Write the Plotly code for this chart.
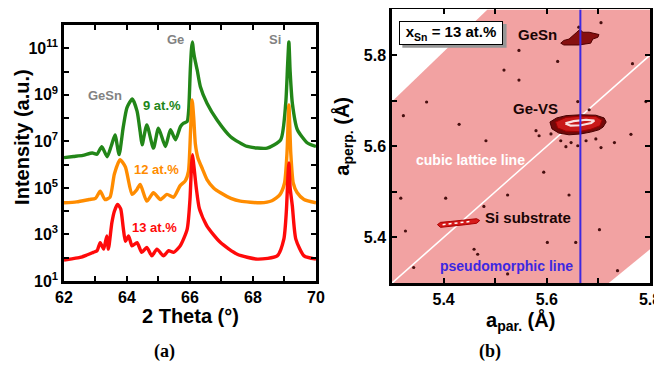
import plotly.graph_objects as go

# ---------------- Panel (a): XRD 2theta scans (log10 intensity) ----------------
green_x = [62.0, 62.3, 62.6, 62.9, 63.05, 63.2, 63.37, 63.5, 63.62, 63.75, 63.88, 64.0, 64.17, 64.32,
           64.42, 64.48, 64.63, 64.84, 65.0, 65.22, 65.38, 65.54, 65.7, 65.8, 65.91, 65.96, 66.01,
           66.05, 66.08, 66.11, 66.16, 66.23, 66.33, 66.54, 66.86, 67.29, 67.82, 68.45, 68.88, 69.04,
           69.1, 69.14, 69.18, 69.25, 69.41, 69.73, 70.0]
green_logI = [6.3, 6.35, 6.4, 6.5, 6.45, 6.77, 6.34, 6.8, 7.28, 6.43, 7.6, 8.45, 8.82, 8.3,
              7.4, 6.85, 7.71, 6.71, 7.57, 6.78, 7.5, 7.07, 7.64, 7.78, 7.85, 8.35, 10.06,
              11.0, 11.27, 10.9, 10.5, 10.06, 9.35, 8.64, 7.92, 7.2, 6.78, 6.71, 7.07, 8.64,
              10.3, 11.27, 10.0, 8.64, 7.5, 6.93, 6.78]

orange_x = [62.0, 62.4, 62.8, 63.0, 63.15, 63.3, 63.46, 63.6, 63.78, 63.95, 64.16, 64.3, 64.42,
            64.63, 64.84, 65.06, 65.27, 65.48, 65.69, 65.85, 65.95, 66.02, 66.07, 66.12, 66.17,
            66.25, 66.4, 66.54, 66.75, 66.97, 67.3, 67.6, 68.24, 68.6, 68.85, 69.0, 69.08, 69.14,
            69.2, 69.28, 69.4, 69.62, 70.0]
orange_logI = [4.36, 4.4, 4.5, 4.55, 4.86, 4.5, 4.6, 5.6, 6.21, 5.9, 4.72, 4.9, 5.15,
               4.43, 4.79, 4.5, 4.72, 4.6, 5.1, 5.3, 5.7, 7.5, 8.78, 8.0, 6.9,
               6.3, 5.8, 5.36, 5.0, 4.79, 4.55, 4.43, 4.36, 4.45, 4.7, 5.2, 6.5, 8.56,
               6.5, 5.2, 4.8, 4.5, 4.36]

red_x = [62.0, 62.25, 62.51, 62.7, 62.93, 63.05, 63.15, 63.26, 63.36, 63.41, 63.52, 63.6, 63.7,
         63.8, 63.88, 63.95, 64.05, 64.16, 64.32, 64.47, 64.63, 64.79, 64.95, 65.16, 65.32, 65.48,
         65.69, 65.91, 66.0, 66.05, 66.08, 66.12, 66.2, 66.3, 66.54, 66.97, 67.5, 68.14, 68.77,
         68.98, 69.06, 69.11, 69.14, 69.18, 69.25, 69.36, 69.62, 70.0]
red_logI = [1.9, 1.95, 2.01, 2.1, 2.23, 2.3, 2.65, 2.37, 2.94, 2.37, 3.5, 4.0, 4.29,
            4.1, 3.3, 2.7, 2.94, 2.51, 2.65, 2.23, 2.44, 2.08, 2.37, 2.08, 2.30, 2.23,
            2.51, 3.22, 4.5, 6.0, 6.43, 6.0, 5.0, 4.1, 3.36, 2.65, 2.15, 1.94, 2.08,
            2.8, 4.0, 5.5, 6.07, 5.0, 4.22, 2.8, 2.08, 1.94]

xrd_xticks = [62, 63, 64, 65, 66, 67, 68, 69, 70]
xrd_xticklabels = ["62", "", "64", "", "66", "", "68", "", "70"]
xrd_decades = [1, 2, 3, 4, 5, 6, 7, 8, 9, 10, 11, 12]
xrd_yticklabels = ["10<sup>1</sup>", "", "10<sup>3</sup>", "", "10<sup>5</sup>", "", "10<sup>7</sup>", "",
                   "10<sup>9</sup>", "", "10<sup>11</sup>", ""]

# ---------------- Panel (b): reciprocal space map in lattice-constant space ----------------
band_x = [5.3, 5.3, 5.485, 5.8, 5.8, 5.72]
band_y = [5.3, 5.698, 5.9, 5.9, 5.374, 5.3]
cubic_x = [5.3, 5.8]
cubic_y = [5.3, 5.8]
pseudo_apar = 5.665
pseudo_y = [5.3, 5.9]

gesn_x = [5.627, 5.633, 5.643, 5.650, 5.658, 5.664, 5.670, 5.682, 5.691, 5.701, 5.699, 5.689,
          5.685, 5.674, 5.662, 5.647, 5.633, 5.627]
gesn_y = [5.826, 5.832, 5.835, 5.843, 5.850, 5.856, 5.850, 5.850, 5.848, 5.845, 5.839, 5.835,
          5.826, 5.824, 5.822, 5.822, 5.822, 5.826]

gevs_outer_x = [5.606, 5.619, 5.637, 5.666, 5.695, 5.711, 5.715, 5.709, 5.701, 5.685, 5.666,
                5.643, 5.623, 5.610, 5.606]
gevs_outer_y = [5.653, 5.662, 5.667, 5.669, 5.668, 5.662, 5.653, 5.642, 5.636, 5.631, 5.627,
                5.625, 5.629, 5.638, 5.653]
gevs_ring_x = [5.617, 5.637, 5.666, 5.695, 5.707, 5.703, 5.685, 5.662, 5.637, 5.621, 5.617]
gevs_ring_y = [5.653, 5.663, 5.666, 5.665, 5.657, 5.645, 5.637, 5.632, 5.633, 5.640, 5.653]
gevs_core_x = [5.636, 5.652, 5.676, 5.692, 5.686, 5.666, 5.646, 5.636]
gevs_core_y = [5.650, 5.655, 5.658, 5.656, 5.651, 5.646, 5.645, 5.650]

si_outer_x = [5.388, 5.394, 5.414, 5.443, 5.464, 5.470, 5.464, 5.443, 5.414, 5.394, 5.388]
si_outer_y = [5.428, 5.433, 5.435, 5.439, 5.441, 5.437, 5.431, 5.428, 5.425, 5.422, 5.428]
si_core_x = [5.398, 5.423, 5.452]
si_core_y = [5.428, 5.431, 5.435]

dots_x = [5.322, 5.367, 5.430, 5.482, 5.517, 5.546, 5.546, 5.621, 5.660, 5.705, 5.766, 5.792,
          5.731, 5.763, 5.705, 5.317, 5.404, 5.326, 5.478, 5.524, 5.643, 5.601, 5.656, 5.459,
          5.342, 5.524, 5.702, 5.737, 5.594, 5.682, 5.579, 5.585, 5.627, 5.647, 5.676, 5.695,
          5.608, 5.660, 5.637, 5.466, 5.662]
dots_y = [5.667, 5.697, 5.648, 5.612, 5.767, 5.745, 5.810, 5.786, 5.698, 5.871, 5.781, 5.698,
          5.608, 5.626, 5.597, 5.486, 5.486, 5.414, 5.468, 5.493, 5.493, 5.389, 5.389, 5.374,
          5.334, 5.320, 5.417, 5.327, 5.543, 5.680, 5.634, 5.623, 5.612, 5.608, 5.612, 5.616,
          5.627, 5.601, 5.599, 5.363, 5.861]

rsm_ticks = [5.3, 5.4, 5.5, 5.6, 5.7, 5.8, 5.9]
rsm_ticklabels = ["", "5.4", "", "5.6", "", "5.8", ""]

GREEN = "rgb(34,134,24)"
ORANGE = "rgb(255,140,0)"
RED = "rgb(255,10,10)"
BLUE = "rgb(60,40,225)"
PINK = "rgb(242,162,162)"
SANS = "Liberation Sans"
SERIF = "Liberation Serif"

fig = go.Figure()

for xs, ls, col in [(green_x, green_logI, GREEN), (orange_x, orange_logI, ORANGE), (red_x, red_logI, RED)]:
    fig.add_trace(go.Scatter(x=xs, y=[10 ** v for v in ls], mode="lines", xaxis="x", yaxis="y",
                             line=dict(color=col, width=3.4, shape="spline", smoothing=0.6),
                             showlegend=False, hoverinfo="skip"))

fig.add_trace(go.Scatter(x=band_x, y=band_y, fill="toself", fillcolor=PINK, mode="none",
                         xaxis="x2", yaxis="y2", showlegend=False, hoverinfo="skip"))
fig.add_trace(go.Scatter(x=cubic_x, y=cubic_y, mode="lines", line=dict(color="white", width=1.6),
                         xaxis="x2", yaxis="y2", showlegend=False, hoverinfo="skip"))
fig.add_trace(go.Scatter(x=dots_x, y=dots_y, mode="markers",
                         marker=dict(color="rgb(70,15,15)", size=3.2),
                         xaxis="x2", yaxis="y2", showlegend=False, hoverinfo="skip"))
fig.add_trace(go.Scatter(x=gesn_x, y=gesn_y, fill="toself", fillcolor="rgb(135,15,15)",
                         mode="lines", line=dict(color="rgb(80,0,0)", width=1),
                         xaxis="x2", yaxis="y2", showlegend=False, hoverinfo="skip"))
fig.add_trace(go.Scatter(x=gevs_outer_x, y=gevs_outer_y, fill="toself", fillcolor="rgb(115,10,10)",
                         mode="lines", line=dict(color="rgb(70,0,0)", width=1),
                         xaxis="x2", yaxis="y2", showlegend=False, hoverinfo="skip"))
fig.add_trace(go.Scatter(x=gevs_ring_x, y=gevs_ring_y, fill="toself", fillcolor="rgb(200,25,25)",
                         mode="lines", line=dict(color="rgb(160,0,0)", width=1),
                         xaxis="x2", yaxis="y2", showlegend=False, hoverinfo="skip"))
fig.add_trace(go.Scatter(x=gevs_core_x, y=gevs_core_y, fill="toself", fillcolor="rgba(0,0,0,0)",
                         mode="lines", line=dict(color="rgb(250,225,225)", width=2.2),
                         xaxis="x2", yaxis="y2", showlegend=False, hoverinfo="skip"))
fig.add_trace(go.Scatter(x=si_outer_x, y=si_outer_y, fill="toself", fillcolor="rgb(215,25,25)",
                         mode="lines", line=dict(color="rgb(170,0,0)", width=1),
                         xaxis="x2", yaxis="y2", showlegend=False, hoverinfo="skip"))
fig.add_trace(go.Scatter(x=si_core_x, y=si_core_y, mode="lines",
                         line=dict(color="white", width=1.5, dash="dot"),
                         xaxis="x2", yaxis="y2", showlegend=False, hoverinfo="skip"))
fig.add_trace(go.Scatter(x=[pseudo_apar, pseudo_apar], y=pseudo_y, mode="lines",
                         line=dict(color=BLUE, width=2),
                         xaxis="x2", yaxis="y2", showlegend=False, hoverinfo="skip"))

tickfont = dict(family=SANS, size=16, color="black", weight="bold")
axis_common = dict(showline=True, linecolor="black", linewidth=2.5, mirror="allticks",
                   ticks="inside", ticklen=5, tickwidth=1.5, tickcolor="black", automargin=False,
                   showgrid=False, zeroline=False, tickfont=tickfont, fixedrange=True)

# the page body adds an 8 px offset, so the figure is 654 x 359
fig.update_layout(
    width=654, height=359, autosize=False,
    margin=dict(l=0, r=0, t=0, b=0, pad=0, autoexpand=False),
    paper_bgcolor="white", plot_bgcolor="white",
    xaxis=dict(domain=[0.0856, 0.4709], range=[62, 70], anchor="y",
               tickmode="array", tickvals=xrd_xticks, ticktext=xrd_xticklabels, **axis_common),
    yaxis=dict(domain=[0.2396, 0.9526], type="log", range=[1, 12], anchor="x",
               tickmode="array", tickvals=[10 ** d for d in xrd_decades], ticktext=xrd_yticklabels,
               **axis_common),
    xaxis2=dict(domain=[0.5872, 0.9817], range=[5.3, 5.8], anchor="y2",
                tickmode="array", tickvals=rsm_ticks, ticktext=rsm_ticklabels, **axis_common),
    yaxis2=dict(domain=[0.234, 0.996], range=[5.3, 5.9], anchor="x2",
                tickmode="array", tickvals=rsm_ticks, ticktext=rsm_ticklabels, **axis_common),
)

# legend-box shadow
fig.add_shape(type="rect", xref="x2", yref="y2", x0=5.320, x1=5.522, y0=5.816, y1=5.868,
              fillcolor="rgb(150,150,150)", line=dict(width=0), layer="above")

def bold(size, color="black", family=SANS):
    return dict(family=family, size=size, color=color, weight="bold")

ann = [
    # panel (a)
    dict(x=63.31, y=8.99, xref="x", yref="y", text="GeSn", font=bold(13, "rgb(130,130,130)")),
    dict(x=65.53, y=11.38, xref="x", yref="y", text="Ge", font=bold(13, "rgb(130,130,130)")),
    dict(x=68.69, y=11.38, xref="x", yref="y", text="Si", font=bold(13, "rgb(130,130,130)")),
    dict(x=65.12, y=8.56, xref="x", yref="y", text="9 at.%", font=bold(13, GREEN)),
    dict(x=64.93, y=5.79, xref="x", yref="y", text="12 at.%", font=bold(13, ORANGE)),
    dict(x=64.87, y=3.31, xref="x", yref="y", text="13 at.%", font=bold(13, RED)),
    dict(x=0.0214, y=0.641, xref="paper", yref="paper", text="Intensity (a.u.)", textangle=-90,
         font=bold(20)),
    dict(x=0.2783, y=0.142, xref="paper", yref="paper", text="2 Theta (°)", font=bold(20)),
    dict(x=0.240, y=0.042, xref="paper", yref="paper", text="(a)", font=bold(18, family=SERIF)),
    # panel (b)
    dict(x=5.581, y=5.845, xref="x2", yref="y2", text="GeSn", font=bold(15, "rgb(25,5,5)")),
    dict(x=5.579, y=5.683, xref="x2", yref="y2", text="Ge-VS", font=bold(15, "rgb(25,5,5)")),
    dict(x=5.452, y=5.569, xref="x2", yref="y2", text="cubic lattice line", font=bold(14, "white")),
    dict(x=5.563, y=5.443, xref="x2", yref="y2", text="Si substrate", font=bold(15, "rgb(25,5,5)")),
    dict(x=5.522, y=5.337, xref="x2", yref="y2", text="pseudomorphic line", font=bold(14, BLUE)),
    dict(x=5.4136, y=5.848, xref="x2", yref="y2", text="x<sub>Sn</sub> = 13 at.%", font=bold(15),
         bgcolor="white", bordercolor="black", borderwidth=1, width=102, height=22, borderpad=0),
    dict(x=0.512, y=0.644, xref="paper", yref="paper", text="a<sub>perp.</sub> (Å)", textangle=-90,
         font=bold(20)),
    dict(x=0.783, y=0.128, xref="paper", yref="paper", text="a<sub>par.</sub> (Å)", font=bold(20)),
    dict(x=0.737, y=0.042, xref="paper", yref="paper", text="(b)", font=bold(18, family=SERIF)),
]
for a in ann:
    a.setdefault("showarrow", False)
    a.setdefault("xanchor", "center")
    a.setdefault("yanchor", "middle")
    fig.add_annotation(**a)

fig.write_html("out.html")
